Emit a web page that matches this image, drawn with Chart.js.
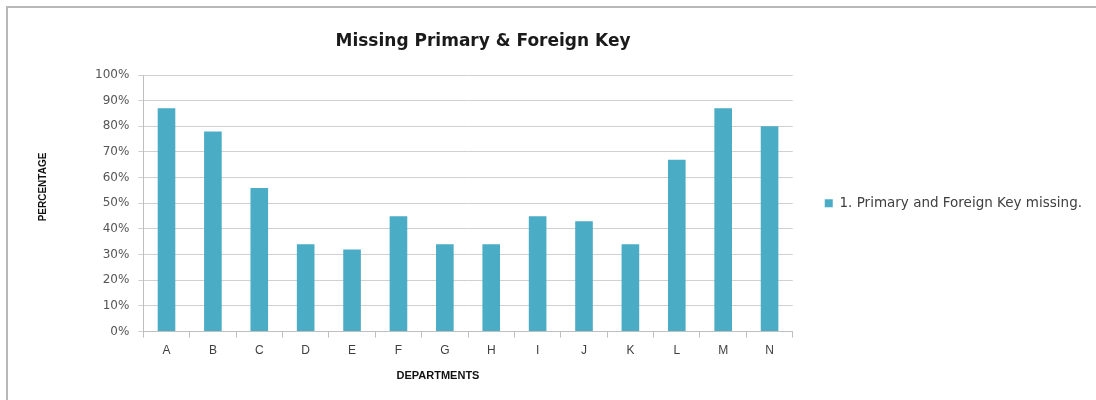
<!DOCTYPE html>
<html>
<head>
<meta charset="utf-8">
<script src="https://cdn.jsdelivr.net/npm/chart.js@4"></script>
<style>
  html, body { margin: 0; padding: 0; background: #fff; }
  #wrap { position: relative; width: 1096px; height: 400px; overflow: hidden; }
  #frame { position: absolute; left: 6px; top: 6px; width: 1200px; height: 500px;
           border-left: 2px solid #b8b8b8; border-top: 2px solid #b8b8b8; }
  #chart { position: absolute; left: 0; top: 0; }
</style>
</head>
<body>
<div id="wrap">
  <div id="frame"></div>
  <canvas id="chart" width="1096" height="400"></canvas>
</div>
<script>
// departments and their share of missing keys (percent)
const departments = ["A", "B", "C", "D", "E", "F", "G", "H", "I", "J", "K", "L", "M", "N"];
const missingKeys = [87, 78, 56, 34, 32, 45, 34, 34, 45, 43, 34, 67, 87, 80];
const yTicks = [0, 10, 20, 30, 40, 50, 60, 70, 80, 90, 100];
const seriesName = "1. Primary and Foreign Key missing.";
const chartTitle = "Missing Primary & Foreign Key";
const xTitle = "DEPARTMENTS";
const yTitle = "PERCENTAGE";

// the titles sit off-centre in the original, so they are drawn by hand
const titlesPlugin = {
  id: "titles",
  afterDraw(chart) {
    const { ctx } = chart;
    ctx.save();
    ctx.textAlign = "center";
    ctx.textBaseline = "middle";

    ctx.font = "bold 17px 'DejaVu Sans'";
    ctx.fillStyle = "#1a1a1a";
    ctx.fillText(chartTitle, 483, 42);

    ctx.font = "bold 11px 'Liberation Sans Narrow', 'Liberation Sans'";
    ctx.fillStyle = "#111";
    ctx.fillText(xTitle, 438, 376);

    ctx.translate(43, 187);
    ctx.rotate(-Math.PI / 2);
    ctx.font = "bold 10px 'Liberation Sans Narrow', 'Liberation Sans'";
    ctx.fillText(yTitle, 0, 0);
    ctx.restore();
  },
};

const container = document.getElementById("chart");

new Chart(container, {
  type: "bar",
  data: {
    labels: departments,
    datasets: [
      {
        label: seriesName,
        data: missingKeys,
        backgroundColor: "#4bacc6",
        borderWidth: 0,
        categoryPercentage: 1,
        barPercentage: 0.38,
      },
    ],
  },
  options: {
    responsive: false,
    animation: false,
    layout: {
      padding: { left: 86, right: 4, top: 75, bottom: 36 },
    },
    plugins: {
      title: { display: false },
      tooltip: { enabled: false },
      legend: {
        position: "right",
        fullSize: false,
        maxWidth: 340,
        labels: {
          boxWidth: 8,
          boxHeight: 8,
          padding: 32,
          color: "#404040",
          font: { family: "'DejaVu Sans'", size: 13.5 },
        },
      },
    },
    scales: {
      x: {
        grid: {
          drawOnChartArea: false,
          drawTicks: true,
          tickLength: 6,
          color: "#bfbfbf",
        },
        border: { color: "#bfbfbf", width: 1 },
        ticks: {
          color: "#404040",
          padding: 6,
          font: { family: "'Liberation Sans Narrow', 'Liberation Sans'", size: 12 },
        },
      },
      y: {
        min: 0,
        max: 100,
        afterBuildTicks(axis) {
          axis.ticks = yTicks.map((v) => ({ value: v }));
        },
        grid: {
          color: "#d0d0d0",
          tickLength: 5,
        },
        border: { color: "#bfbfbf", width: 1 },
        ticks: {
          color: "#555",
          padding: 9,
          callback: (v) => v + "%",
          font: { family: "'DejaVu Sans'", size: 12 },
        },
      },
    },
  },
  plugins: [titlesPlugin],
});
</script>
</body>
</html>
